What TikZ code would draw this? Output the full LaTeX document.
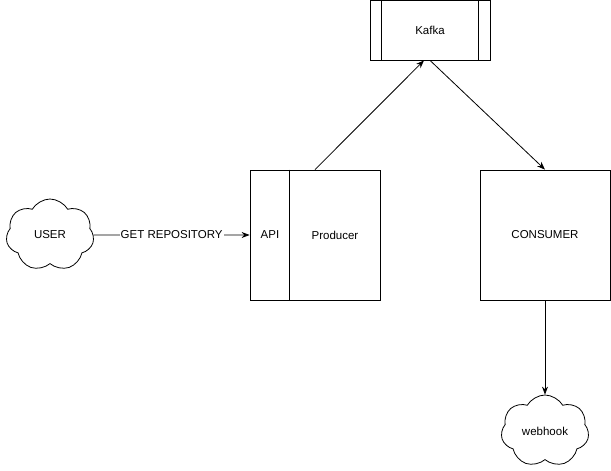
\documentclass[tikz,border=0pt]{standalone}
\usepackage{fontspec}
\setmainfont{Liberation Sans}
\usetikzlibrary{arrows.meta,shapes.symbols}
\tikzset{
  box/.style={draw,thick,minimum width=130pt,minimum height=130pt,inner sep=0pt},
  queue/.style={draw,thick,minimum width=120pt,minimum height=60pt,inner sep=0pt},
  puff/.style={draw,thick,cloud,cloud puffs=7,cloud puff arc=120,aspect=1.25,
    minimum width=88pt,minimum height=72pt,inner sep=0pt},
  flow/.style={-{Stealth[length=8pt,width=6pt]},thick}
}
\begin{document}
\begin{tikzpicture}[x=1pt,y=-1pt,font=\fontsize{11.5}{13}\selectfont]
  \useasboundingbox (0,0) rectangle (611,471);
  \draw
    (430,30) node[queue] (kafka){Kafka}
    (315,235) node[box] (producer){}
    (270,235) node (api){API}
    (335,235) node (prod){Producer}
    (545,235) node[box] (consumer){CONSUMER}
    (50,235) node[puff] (user){USER}
    (545,431) node[puff] (webhook){webhook};
  \draw[thick] ([xshift=12pt]kafka.north west) -- ([xshift=12pt]kafka.south west);
  \draw[thick] ([xshift=-12pt]kafka.north east) -- ([xshift=-12pt]kafka.south east);
  \draw[thick] ([xshift=40pt]producer.north west) -- ([xshift=40pt]producer.south west);
  \begin{scope}[flow]
    \draw (user.east) -- node[fill=white,inner sep=1pt]{GET REPOSITORY} (producer.west);
    \draw (producer.north) -- ([xshift=-6pt]kafka.south);
    \draw (kafka.south) -- (consumer.north);
    \draw (consumer.south) -- (webhook.north);
  \end{scope}
\end{tikzpicture}
\end{document}
